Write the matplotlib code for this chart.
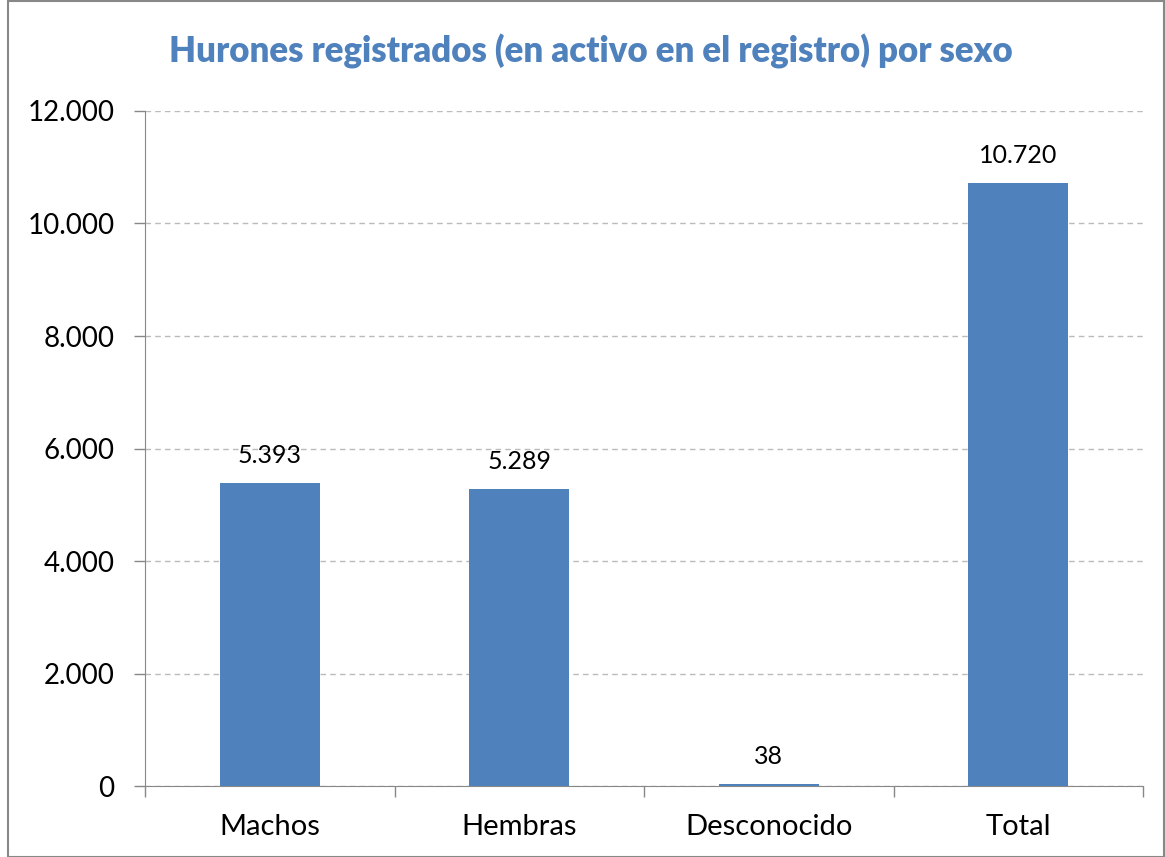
import matplotlib.pyplot as plt
from matplotlib.patches import Rectangle
from matplotlib.ticker import FuncFormatter, FixedLocator

plt.rcParams['font.family'] = ['Lato', 'DejaVu Sans']

categorias = ['Machos', 'Hembras', 'Desconocido', 'Total']
hurones = [5393, 5289, 38, 10720]
etiquetas = ['5.393', '5.289', '38', '10.720']

azul = '#4F81BD'

fig = plt.figure(figsize=(11.65, 8.57), dpi=100)
ax = fig.add_axes([0.1245, 0.0828, 0.8567, 0.7877])

x = range(len(categorias))
ax.bar(x, hurones, width=0.4, color=azul, zorder=3)

for i, v in enumerate(hurones):
    ax.text(i, v + 280, etiquetas[i], ha='center', va='bottom', fontsize=18, color='black')

ax.set_xlim(-0.5, 3.5)
ax.set_ylim(0, 12000)
ax.set_yticks(range(0, 12001, 2000))
ax.yaxis.set_major_formatter(FuncFormatter(lambda v, p: f'{int(v):,}'.replace(',', '.')))
ax.grid(axis='y', color='#BBBBBB', linestyle=(0, (4, 3)), linewidth=1, zorder=0)

ax.xaxis.set_major_locator(FixedLocator([-0.5, 0.5, 1.5, 2.5, 3.5]))
ax.set_xticklabels([])
ax.xaxis.set_minor_locator(FixedLocator(list(x)))
ax.set_xticklabels(categorias, minor=True)
ax.tick_params(axis='x', which='minor', length=0, labelsize=21, pad=20)
ax.tick_params(axis='x', which='major', length=8, width=1, color='#888888', direction='out')
ax.tick_params(axis='y', length=8, width=1, color='#888888', labelsize=20, pad=14)

for s in ['top', 'right']:
    ax.spines[s].set_visible(False)
ax.spines['left'].set_color('#888888')
ax.spines['bottom'].set_color('#888888')

fig.text(0.507, 0.94, 'Hurones registrados (en activo en el registro) por sexo',
         ha='center', va='center', fontsize=25, fontweight='heavy', color=azul)

fig.patches.append(Rectangle((0.007, 0.0), 0.992, 0.999, transform=fig.transFigure,
                             fill=False, edgecolor='#888888', linewidth=1.5))

plt.savefig('out.png', dpi=100)
